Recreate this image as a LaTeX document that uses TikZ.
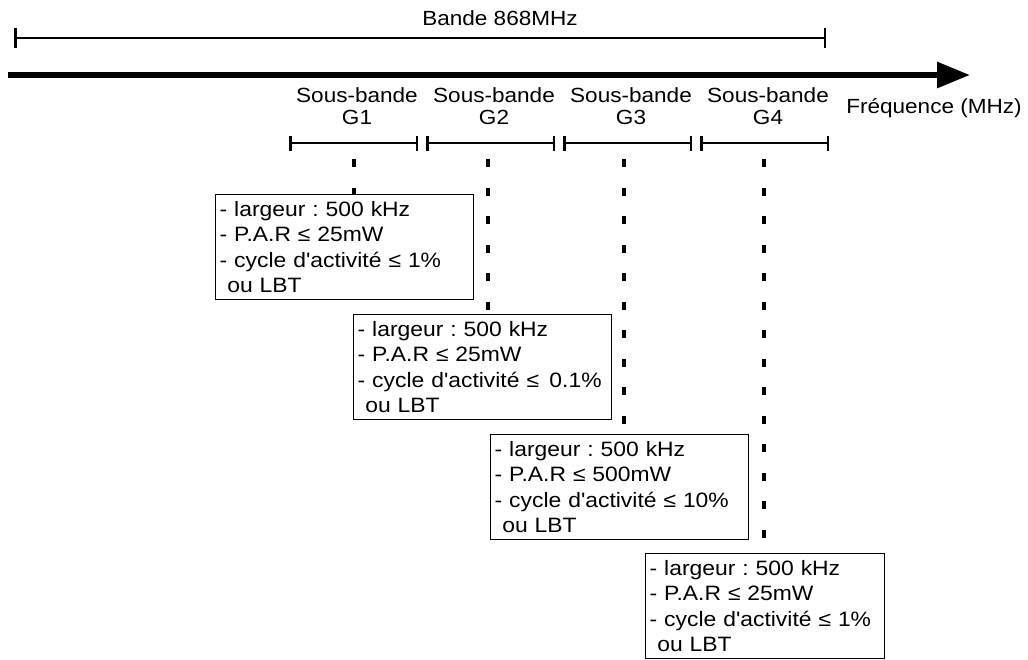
\documentclass[tikz,border=0pt]{standalone}
\usepackage{fontspec}
\setmainfont{Liberation Sans}[FakeStretch=1.1, Ligatures=TeXOff]
\usetikzlibrary{arrows.meta}
\begin{document}
\frenchspacing
\begin{tikzpicture}[x=1pt,y=-1pt,
  lbl/.style={font=\fontsize{20.5}{22}\selectfont, inner sep=0pt, align=center},
  box/.style={draw, line width=1.4pt, anchor=north west, minimum width=258pt,
    minimum height=105pt, align=left, text width=250pt, inner xsep=4pt, inner ysep=0pt,
    font=\fontsize{20.8}{25.3}\selectfont},
  band/.style={line width=2.5pt, {Bar[width=20pt,line width=2.5pt]}-{Bar[width=20pt,line width=2.5pt]}},
  sub/.style={line width=2.5pt, {Bar[width=15pt,line width=2.5pt]}-{Bar[width=15pt,line width=2.5pt]}},
  dots/.style={line width=4pt, dash pattern=on 8pt off 20.5pt}]
\useasboundingbox (0,0) rectangle (1028,659);
% band
\node[lbl] (bande) at (500,18) {Bande 868MHz};
\coordinate (bl) at (14,38);
\coordinate (br) at (826,38);
\draw[band] (bl) -- (br);
% frequency axis
\coordinate (al) at (8,75);
\coordinate (ar) at (970,75);
\draw[line width=6pt, -{Triangle[length=33pt,width=25pt]}] (al) -- (ar);
\node[lbl] (freq) at (934,108) {Fréquence (MHz)};
% sub-band labels
\node[lbl] (g1) at (357,106) {Sous-bande\\G1};
\node[lbl] (g2) at (494,106) {Sous-bande\\G2};
\node[lbl] (g3) at (631,106) {Sous-bande\\G3};
\node[lbl] (g4) at (768,106) {Sous-bande\\G4};
% sub-band segments
\coordinate (s1a) at (289,143); \coordinate (s1b) at (418,143);
\coordinate (s2a) at (426,143); \coordinate (s2b) at (555,143);
\coordinate (s3a) at (563,143); \coordinate (s3b) at (692,143);
\coordinate (s4a) at (700,143); \coordinate (s4b) at (829,143);
\draw[sub] (s1a) -- (s1b);
\draw[sub] (s2a) -- (s2b);
\draw[sub] (s3a) -- (s3b);
\draw[sub] (s4a) -- (s4b);
% boxes
\node[box] (b1) at (215,194) {- largeur : 500 kHz\\- P.A.R ≤ 25mW\\- cycle d'activité ≤ 1\%\\\hphantom{-}ou LBT};
\node[box] (b2) at (353,314) {- largeur : 500 kHz\\- P.A.R ≤ 25mW\\\mbox{- cycle d'activité ≤\hspace{0.5em}0.1\%}\\\hphantom{-}ou LBT};
\node[box] (b3) at (490,434) {- largeur : 500 kHz\\- P.A.R ≤ 500mW\\- cycle d'activité ≤ 10\%\\\hphantom{-}ou LBT};
\node[box, minimum width=239pt, text width=231pt] (b4) at (645,553) {- largeur : 500 kHz\\- P.A.R ≤ 25mW\\- cycle d'activité ≤ 1\%\\\hphantom{-}ou LBT};
% dotted guides
\coordinate (d1) at (354,159);
\coordinate (d2) at (488,159);
\coordinate (d3) at (624,159);
\coordinate (d4) at (764,159);
\draw[dots] (d1) -- (d1 |- b1.north);
\draw[dots] (d2) -- (d2 |- b2.north);
\draw[dots] (d3) -- (d3 |- b3.north);
\draw[dots] (d4) -- (d4 |- b4.north);
\end{tikzpicture}
\end{document}
